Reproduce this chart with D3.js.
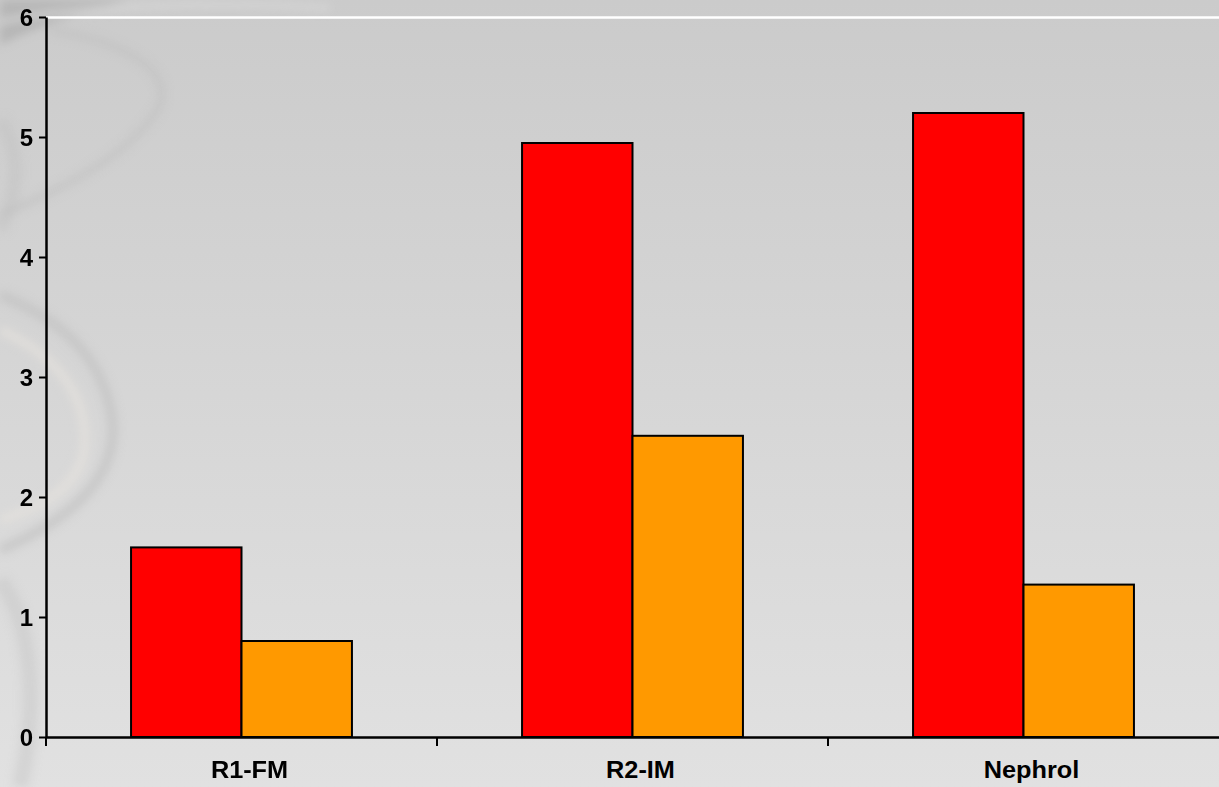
<!DOCTYPE html>
<html>
<head>
<meta charset="utf-8">
<script src="https://cdn.jsdelivr.net/npm/d3@7"></script>
<style>
html,body{margin:0;padding:0;overflow:hidden;background:#d6d6d6;}
svg{display:block;}
</style>
</head>
<body>
<script>
const categories = ["R1-FM", "R2-IM", "Nephrol"];
const seriesNames = ["A", "B"];
const seriesA = [1.58, 4.95, 5.2];
const seriesB = [0.8, 2.51, 1.27];
const yTicks = [0, 1, 2, 3, 4, 5, 6];
const colors = ["#ff0000", "#ff9900"];

const W = 1219, H = 787;
const margin = {top: 17, right: 0, bottom: 50, left: 46};

const svg = d3.select("body").append("svg").attr("width", W).attr("height", H);
const defs = svg.append("defs");
const bg = defs.append("linearGradient").attr("id", "bg").attr("x1", 0).attr("y1", 0).attr("x2", 0).attr("y2", 1);
bg.append("stop").attr("offset", "0%").attr("stop-color", "#cbcbcb");
bg.append("stop").attr("offset", "100%").attr("stop-color", "#e1e1e1");
svg.append("rect").attr("width", W).attr("height", H).attr("fill", "url(#bg)");

// decorative swirl on the left
const blur = defs.append("filter").attr("id", "blur").attr("x", "-50%").attr("y", "-50%").attr("width", "200%").attr("height", "200%");
blur.append("feGaussianBlur").attr("stdDeviation", 4);
const deco = svg.append("g").attr("filter", "url(#blur)");
deco.append("path").attr("d", "M0,0 L130,0 C90,10 40,25 0,45 Z").attr("fill", "#b2b2b2").attr("opacity", 0.8);
deco.append("path").attr("d", "M0,22 C60,8 200,0 330,8").attr("stroke", "#dcdcdc").attr("stroke-width", 6).attr("fill", "none").attr("opacity", 0.6);
deco.append("path").attr("d", "M50,30 C140,45 185,80 150,120 C120,160 60,190 0,215").attr("stroke", "#c0c0c0").attr("stroke-width", 7).attr("fill", "none").attr("opacity", 0.6);
deco.append("path").attr("d", "M0,120 C20,150 20,190 0,230").attr("stroke", "#bdbdbd").attr("stroke-width", 14).attr("fill", "none").attr("opacity", 0.4);
deco.append("path").attr("d", "M0,295 C50,315 105,350 113,425 C115,480 70,520 0,550").attr("stroke", "#c0c0c0").attr("stroke-width", 10).attr("fill", "none").attr("opacity", 0.65);
deco.append("path").attr("d", "M0,330 C45,350 85,385 85,440 C85,480 50,505 0,520").attr("stroke", "#e6e2de").attr("stroke-width", 10).attr("fill", "none").attr("opacity", 0.6);
deco.append("path").attr("d", "M0,580 C30,620 40,700 20,787").attr("stroke", "#c6c6c6").attr("stroke-width", 16).attr("fill", "none").attr("opacity", 0.45);

const x0 = d3.scaleBand().domain(categories).range([margin.left, W - margin.right]).paddingInner(0).paddingOuter(0);
const x1 = d3.scaleBand().domain(seriesNames).range([0, x0.bandwidth()]).paddingInner(0).paddingOuter(0.77);
const y = d3.scaleLinear().domain([0, 6]).range([H - margin.bottom, margin.top]);

// top white line
svg.append("line").attr("x1", margin.left).attr("x2", W).attr("y1", y(6) + 0.5).attr("y2", y(6) + 0.5)
  .attr("stroke", "#ffffff").attr("stroke-width", 2.5);

const data = categories.map((c, i) => ({cat: c, vals: [seriesA[i], seriesB[i]]}));
const groups = svg.append("g").selectAll("g").data(data).join("g")
  .attr("transform", d => `translate(${x0(d.cat)},0)`);
groups.selectAll("rect").data(d => d.vals.map((v, j) => ({s: seriesNames[j], v, j}))).join("rect")
  .attr("x", d => x1(d.s))
  .attr("y", d => y(d.v))
  .attr("width", x1.bandwidth())
  .attr("height", d => y(0) - y(d.v))
  .attr("fill", d => colors[d.j])
  .attr("stroke", "#000")
  .attr("stroke-width", 2);

// y axis
const yAxis = svg.append("g").attr("transform", `translate(${margin.left},0)`)
  .call(d3.axisLeft(y).tickValues(yTicks).tickFormat(d3.format("d")).tickSizeInner(7).tickSizeOuter(0).tickPadding(6));
yAxis.select(".domain").attr("stroke", "#000").attr("stroke-width", 2.5);
yAxis.selectAll(".tick line").attr("stroke", "#000").attr("stroke-width", 2);
yAxis.selectAll(".tick text").attr("font-family", "Liberation Sans, Arial, sans-serif")
  .attr("font-weight", "bold").attr("font-size", 24).attr("fill", "#000").attr("dy", "0.35em");

// x axis
const xAxis = svg.append("g").attr("transform", `translate(0,${y(0)})`)
  .call(d3.axisBottom(x0).tickSize(0).tickPadding(0));
xAxis.select(".domain").attr("stroke", "#000").attr("stroke-width", 2.5);
xAxis.selectAll(".tick text")
  .attr("font-family", "Liberation Sans, Arial, sans-serif")
  .attr("font-weight", "bold").attr("font-size", 23).attr("fill", "#000")
  .attr("x", 0).attr("y", 0).attr("dy", 0)
  .attr("transform", "translate(8,41) scale(1.1,1)");
// category boundary ticks
const bounds = categories.map(c => x0(c));
svg.append("g").selectAll("line").data(bounds).join("line")
  .attr("x1", d => d).attr("x2", d => d)
  .attr("y1", y(0)).attr("y2", y(0) + 9)
  .attr("stroke", "#000").attr("stroke-width", 2);
</script>
</body>
</html>
